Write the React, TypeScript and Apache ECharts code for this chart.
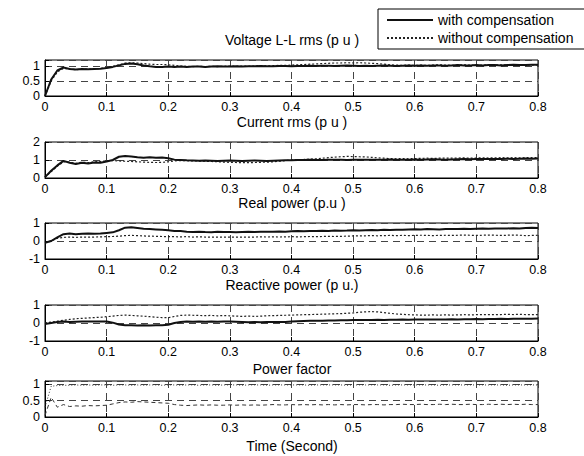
import React, { useEffect, useRef } from 'react';
import * as echarts from 'echarts';

// ---- data ----
const time = [
  0, 0.01, 0.02, 0.03, 0.04, 0.05, 0.06, 0.07, 0.08, 0.09, 0.1,
  0.11, 0.12, 0.13, 0.14, 0.15, 0.16, 0.17, 0.18, 0.19, 0.2,
  0.21, 0.22, 0.23, 0.24, 0.25, 0.26, 0.27, 0.28, 0.29, 0.3,
  0.31, 0.32, 0.33, 0.34, 0.35, 0.36, 0.37, 0.38, 0.39, 0.4,
  0.41, 0.42, 0.43, 0.44, 0.45, 0.46, 0.47, 0.48, 0.49, 0.5,
  0.51, 0.52, 0.53, 0.54, 0.55, 0.56, 0.57, 0.58, 0.59, 0.6,
  0.61, 0.62, 0.63, 0.64, 0.65, 0.66, 0.67, 0.68, 0.69, 0.7,
  0.71, 0.72, 0.73, 0.74, 0.75, 0.76, 0.77, 0.78, 0.79, 0.8,
];

const voltageWith = [
  0.0, 0.55, 0.85, 0.95, 0.9, 0.88, 0.9, 0.89, 0.9, 0.91, 0.93,
  0.97, 1.02, 1.07, 1.08, 1.06, 1.02, 0.99, 0.97, 0.97, 0.98,
  0.97, 0.98, 0.97, 0.98, 0.98, 0.97, 0.98, 0.99, 0.98, 0.98,
  0.99, 0.98, 0.99, 0.99, 1.0, 0.99, 0.99, 1.0, 1.0, 0.99,
  1.0, 1.0, 1.01, 1.0, 1.01, 1.01, 1.0, 1.01, 1.02, 1.01,
  1.0, 1.01, 1.0, 1.01, 1.02, 1.01, 1.0, 1.01, 1.02, 1.01,
  1.02, 1.01, 1.02, 1.02, 1.01, 1.02, 1.03, 1.02, 1.02, 1.03,
  1.02, 1.03, 1.03, 1.02, 1.03, 1.04, 1.03, 1.03, 1.04, 1.04,
];
const voltageWithout = [
  0.0, 0.5, 0.8, 0.92, 0.9, 0.88, 0.89, 0.9, 0.9, 0.92, 0.95,
  0.99, 1.04, 1.1, 1.11, 1.1, 1.08, 1.06, 1.05, 1.05, 1.04,
  1.02, 1.0, 0.99, 0.98, 0.99, 0.98, 0.99, 0.98, 0.99, 1.0,
  0.99, 1.0, 0.99, 1.0, 1.01, 1.0, 1.01, 1.02, 1.02, 1.03,
  1.04, 1.05, 1.06, 1.07, 1.08, 1.09, 1.1, 1.1, 1.11, 1.1,
  1.11, 1.1, 1.09, 1.08, 1.06, 1.04, 1.03, 1.02, 1.03, 1.02,
  1.03, 1.02, 1.03, 1.04, 1.03, 1.02, 1.03, 1.04, 1.03, 1.02,
  1.03, 1.04, 1.03, 1.04, 1.03, 1.04, 1.05, 1.04, 1.03, 1.04,
];

const currentWith = [
  0.05, 0.4, 0.7, 0.95, 0.85, 0.78, 0.85, 0.8, 0.86, 0.85, 0.92,
  1.0, 1.18, 1.22, 1.2, 1.15, 1.13, 1.15, 1.12, 1.14, 1.1,
  1.02, 1.0, 0.98, 0.97, 0.96, 0.97, 0.96, 0.95, 0.96, 0.97,
  0.96, 0.95, 0.96, 0.97, 0.96, 0.95, 0.96, 0.97, 0.98, 0.99,
  1.0, 1.0, 1.01, 1.0, 1.0, 1.01, 1.02, 1.01, 1.0, 1.01,
  1.02, 1.01, 1.02, 1.01, 1.02, 1.03, 1.02, 1.01, 1.02, 1.03,
  1.02, 1.03, 1.04, 1.03, 1.02, 1.03, 1.04, 1.05, 1.04, 1.05,
  1.05, 1.06, 1.05, 1.06, 1.07, 1.06, 1.07, 1.08, 1.07, 1.08,
];
const currentWithout = [
  0.05, 0.35, 0.65, 0.9, 0.88, 0.82, 0.88, 0.85, 0.9, 0.92, 0.95,
  0.97, 0.95, 0.93, 0.92, 0.9, 0.88, 0.87, 0.86, 0.87, 0.9,
  0.95, 0.97, 0.96, 0.95, 0.94, 0.93, 0.92, 0.9, 0.88, 0.87,
  0.86, 0.85, 0.85, 0.86, 0.87, 0.88, 0.9, 0.93, 0.97, 1.0,
  1.02, 1.03, 1.05, 1.07, 1.1, 1.13, 1.16, 1.18, 1.2, 1.19,
  1.18, 1.17, 1.15, 1.12, 1.1, 1.08, 1.07, 1.08, 1.07, 1.08,
  1.09, 1.1, 1.09, 1.1, 1.11, 1.1, 1.11, 1.12, 1.1, 1.11,
  1.12, 1.11, 1.12, 1.13, 1.12, 1.13, 1.12, 1.13, 1.14, 1.13,
];

const realWith = [
  -0.1, 0.0, 0.2, 0.38, 0.42, 0.38, 0.4, 0.41, 0.4, 0.42, 0.45,
  0.48, 0.6, 0.74, 0.76, 0.72, 0.68, 0.66, 0.64, 0.62, 0.6,
  0.56, 0.55, 0.52, 0.5, 0.52, 0.5, 0.49, 0.51, 0.5, 0.5,
  0.49, 0.5, 0.51, 0.5, 0.52, 0.51, 0.52, 0.53, 0.52, 0.54,
  0.55, 0.54, 0.56, 0.55, 0.57, 0.56, 0.58, 0.57, 0.58, 0.6,
  0.59, 0.6, 0.61, 0.6, 0.62, 0.61, 0.63, 0.62, 0.64, 0.65,
  0.64, 0.66, 0.65, 0.64, 0.66, 0.67, 0.66, 0.68, 0.67, 0.68,
  0.69, 0.68, 0.7, 0.69, 0.7, 0.71, 0.7, 0.72, 0.74, 0.72,
];
const realWithout = [
  -0.1, 0.0, 0.15, 0.2, 0.22, 0.2, 0.22, 0.21, 0.22, 0.23, 0.24,
  0.25, 0.27, 0.3, 0.31, 0.3, 0.28, 0.27, 0.26, 0.25, 0.24,
  0.24, 0.23, 0.24, 0.22, 0.23, 0.22, 0.21, 0.22, 0.21, 0.22,
  0.21, 0.22, 0.21, 0.22, 0.23, 0.22, 0.23, 0.22, 0.23, 0.24,
  0.23, 0.24, 0.25, 0.24, 0.25, 0.26, 0.25, 0.26, 0.27, 0.28,
  0.28, 0.29, 0.3, 0.29, 0.3, 0.31, 0.3, 0.31, 0.3, 0.31,
  0.32, 0.31, 0.3, 0.31, 0.32, 0.31, 0.32, 0.33, 0.32, 0.31,
  0.32, 0.33, 0.32, 0.31, 0.32, 0.33, 0.32, 0.3, 0.31, 0.32,
];

const reactiveWith = [
  -0.05, 0.0, 0.05, 0.08, 0.06, 0.07, 0.08, 0.09, 0.08, 0.09, 0.08,
  0.02, -0.08, -0.12, -0.13, -0.14, -0.13, -0.14, -0.13, -0.12, -0.1,
  0.0, 0.06, 0.08, 0.07, 0.08, 0.07, 0.08, 0.07, 0.09, 0.08,
  0.07, 0.06, 0.04, 0.05, 0.04, 0.05, 0.06, 0.05, 0.06, 0.08,
  0.1, 0.11, 0.12, 0.12, 0.13, 0.14, 0.14, 0.15, 0.15, 0.16,
  0.16, 0.17, 0.17, 0.18, 0.17, 0.18, 0.18, 0.19, 0.18, 0.19,
  0.19, 0.2, 0.2, 0.19, 0.2, 0.21, 0.2, 0.21, 0.21, 0.22,
  0.21, 0.22, 0.22, 0.23, 0.22, 0.23, 0.23, 0.24, 0.24, 0.25,
];
const reactiveWithout = [
  0.0, 0.05, 0.1, 0.15, 0.2, 0.24, 0.26, 0.28, 0.3, 0.32, 0.35,
  0.38, 0.42, 0.44, 0.42, 0.4, 0.38, 0.35, 0.32, 0.3, 0.3,
  0.36, 0.42, 0.44, 0.43, 0.42, 0.41, 0.42, 0.4, 0.41, 0.4,
  0.38, 0.37, 0.38, 0.37, 0.38, 0.4, 0.41, 0.42, 0.43, 0.44,
  0.45, 0.46, 0.47, 0.48, 0.49, 0.5, 0.51, 0.52, 0.54, 0.56,
  0.6, 0.62, 0.63, 0.62, 0.58, 0.54, 0.5, 0.48, 0.46, 0.45,
  0.44, 0.44, 0.45, 0.44, 0.45, 0.44, 0.45, 0.46, 0.45, 0.46,
  0.46, 0.47, 0.46, 0.47, 0.48, 0.47, 0.48, 0.47, 0.46, 0.47,
];

const pfWith = [
  0.3, 0.94, 0.96, 0.97, 0.97, 0.98, 0.97, 0.98, 0.97, 0.98, 0.98,
  0.97, 0.98, 0.98, 0.97, 0.98, 0.97, 0.98, 0.98, 0.97, 0.98,
  0.98, 0.97, 0.98, 0.98, 0.97, 0.98, 0.98, 0.97, 0.98, 0.98,
  0.98, 0.97, 0.98, 0.98, 0.98, 0.97, 0.98, 0.98, 0.98, 0.98,
  0.98, 0.98, 0.97, 0.98, 0.98, 0.98, 0.98, 0.98, 0.97, 0.98,
  0.98, 0.98, 0.98, 0.98, 0.98, 0.97, 0.98, 0.98, 0.98, 0.98,
  0.98, 0.98, 0.98, 0.97, 0.98, 0.98, 0.98, 0.98, 0.98, 0.98,
  0.98, 0.98, 0.98, 0.98, 0.97, 0.98, 0.98, 0.98, 0.98, 0.98,
];
const pfWithout = [
  0.05, 0.6, 0.3, 0.38, 0.32, 0.34, 0.33, 0.35, 0.34, 0.35, 0.36,
  0.4, 0.44, 0.46, 0.45, 0.47, 0.46, 0.45, 0.44, 0.43, 0.42,
  0.38, 0.36, 0.35, 0.36, 0.37, 0.36, 0.37, 0.36, 0.36, 0.37,
  0.36, 0.37, 0.36, 0.37, 0.36, 0.37, 0.38, 0.37, 0.37, 0.38,
  0.37, 0.38, 0.37, 0.38, 0.37, 0.38, 0.37, 0.38, 0.37, 0.38,
  0.38, 0.37, 0.38, 0.38, 0.37, 0.38, 0.38, 0.39, 0.38, 0.38,
  0.39, 0.38, 0.38, 0.39, 0.38, 0.39, 0.38, 0.38, 0.39, 0.38,
  0.38, 0.39, 0.38, 0.39, 0.38, 0.39, 0.38, 0.39, 0.38, 0.38,
];

const panelTitles = [
  'Voltage L-L rms (p u )',
  'Current rms (p u )',
  'Real power (p.u )',
  'Reactive power (p u.)',
  'Power factor',
];
const xAxisTitle = 'Time (Second)';
const xTicks = [0, 0.1, 0.2, 0.3, 0.4, 0.5, 0.6, 0.7, 0.8];
const yTicks = [
  [0, 0.5, 1],
  [0, 1, 2],
  [-1, 0, 1],
  [-1, 0, 1],
  [0, 0.5, 1],
];
const yRanges = [
  [0, 1.2, 0.5],
  [0, 2, 1],
  [-1, 1, 1],
  [-1, 1, 1],
  [0, 1.1, 0.5],
];
const seriesWith = [voltageWith, currentWith, realWith, reactiveWith, pfWith];
const seriesWithout = [voltageWithout, currentWithout, realWithout, reactiveWithout, pfWithout];
const legendNames = ['with compensation', 'without compensation'];

const FONT = "'Liberation Sans', Arial, Helvetica, sans-serif";

function buildOption() {
  const LEFT = 45;
  const WIDTH = 493;
  const HEIGHT = 36;
  const tops = [60, 142, 223, 305, 381];
  const titleTops = [33, 115, 196, 278, 362];

  const grids = tops.map((t) => ({
    left: LEFT,
    top: t,
    width: WIDTH,
    height: HEIGHT,
    show: true,
    borderColor: '#000',
    borderWidth: 1,
    containLabel: false,
    outerBoundsMode: 'none',
  }));

  const gridLine = { show: true, lineStyle: { color: '#444', width: 1, type: [7, 5] } };

  const xAxes = tops.map((_, i) => ({
    type: 'value',
    gridIndex: i,
    min: 0,
    max: 0.8,
    interval: 0.1,
    axisLine: { show: true, onZero: false, lineStyle: { color: '#000', width: 1 } },
    axisTick: { show: true, inside: true, length: 4, lineStyle: { color: '#000' } },
    axisLabel: {
      margin: 4,
      fontSize: 12.5,
      fontFamily: FONT,
      color: '#000',
      formatter: (v: number) => {
        const r = Math.round(v * 10) / 10;
        return xTicks.includes(r) ? String(r) : '';
      },
    },
    splitLine: gridLine,
  }));

  const yAxes = tops.map((_, i) => ({
    type: 'value',
    gridIndex: i,
    min: yRanges[i][0],
    max: yRanges[i][1],
    interval: yRanges[i][2],
    axisLine: { show: true, lineStyle: { color: '#000', width: 1 } },
    axisTick: { show: true, inside: true, length: 4, lineStyle: { color: '#000' } },
    axisLabel: {
      margin: 5,
      fontSize: 12.5,
      fontFamily: FONT,
      color: '#000',
      formatter: (v: number) => {
        const r = Math.round(v * 100) / 100;
        return yTicks[i].includes(r) ? String(r) : '';
      },
    },
    splitLine: gridLine,
  }));

  const series: any[] = [];
  for (let i = 0; i < 5; i++) {
    const isPf = i === 4;
    series.push({
      name: legendNames[1],
      type: 'line',
      xAxisIndex: i,
      yAxisIndex: i,
      data: time.map((t, k) => [t, seriesWithout[i][k]]),
      showSymbol: false,
      symbol: 'none',
      color: '#222',
      lineStyle: isPf
        ? { color: '#333', width: 1, type: [4, 3] }
        : { color: '#222', width: 1.2, type: [2, 2] },
      z: 2,
    });
    series.push({
      name: legendNames[0],
      type: 'line',
      xAxisIndex: i,
      yAxisIndex: i,
      data: time.map((t, k) => [t, seriesWith[i][k]]),
      showSymbol: false,
      symbol: 'none',
      color: '#111',
      lineStyle: isPf
        ? { color: '#333', width: 1, type: [1, 2] }
        : { color: '#111', width: 2 },
      z: 3,
    });
  }

  const titleStyle = { fontSize: 14, fontWeight: 'normal', fontFamily: FONT, color: '#000' };
  const titles = [
    ...panelTitles.map((text, i) => ({
      text,
      left: 'center',
      top: titleTops[i],
      padding: 0,
      textStyle: titleStyle,
    })),
    { text: xAxisTitle, left: 'center', top: 439, padding: 0, textStyle: titleStyle },
  ];

  return {
    animation: false,
    backgroundColor: '#fff',
    title: titles,
    legend: {
      data: [
        { name: legendNames[0] },
        { name: legendNames[1] },
      ],
      orient: 'vertical',
      left: 378,
      top: 9,
      itemWidth: 46,
      itemHeight: 10,
      itemGap: 4,
      padding: [4, 40, 4, 8],
      borderColor: '#000',
      borderWidth: 1,
      backgroundColor: '#fff',
      itemStyle: { opacity: 0 },
      textStyle: { fontSize: 14, fontFamily: FONT, color: '#000' },
    },
    grid: grids,
    xAxis: xAxes,
    yAxis: yAxes,
    series,
  };
}

export default function App() {
  const ref = useRef<HTMLDivElement>(null);
  useEffect(() => {
    document.body.style.margin = '0';
    if (!ref.current) return;
    const chart = echarts.init(ref.current, null, { renderer: 'svg' });
    chart.setOption(buildOption() as any);
    return () => chart.dispose();
  }, []);
  return <div ref={ref} style={{ width: 584, height: 456 }} />;
}
